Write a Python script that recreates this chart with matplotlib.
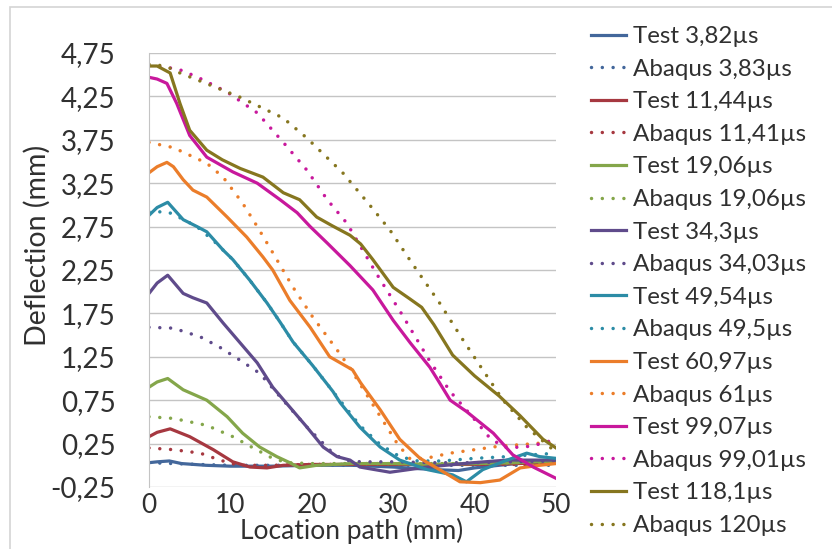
import matplotlib
matplotlib.use('Agg')
import matplotlib.pyplot as plt
from matplotlib.patches import Rectangle
import numpy as np

plt.rcParams['font.family'] = ['Lato', 'DejaVu Sans']

# --- data (location path in mm, deflection in mm) ---
test_3_x = [0, 1, 2.5, 4, 7, 10, 15, 20, 25, 30, 35, 38, 40, 43, 46, 50]
test_3_y = [0.03, 0.04, 0.05, 0.02, 0.0, -0.01, -0.01, 0.0, 0.0, -0.02, -0.05, -0.06, -0.03, 0.0, 0.03, 0.05]
abaqus_3_x = [0, 3, 6, 10, 20, 30, 40, 50]
abaqus_3_y = [0.03, 0.02, 0.01, 0.0, 0.0, 0.0, 0.0, 0.0]

test_11_x = [0, 1, 2.6, 5, 7.9, 10.3, 12.4, 14.5, 16.5, 20, 25, 30, 35, 40, 45, 50]
test_11_y = [0.33, 0.38, 0.42, 0.33, 0.18, 0.04, -0.02, -0.03, 0.0, 0.01, 0.01, 0.01, 0.01, 0.01, 0.02, 0.03]
abaqus_11_x = [0, 3, 6.3, 8.7, 11, 15, 20, 25, 30, 35, 40, 45, 50]
abaqus_11_y = [0.20, 0.18, 0.14, 0.06, 0.0, 0.0, 0.01, 0.01, 0.01, 0.01, 0.01, 0.01, 0.01]

test_19_x = [0, 1, 2.3, 4.2, 7.1, 9.6, 11.5, 13.6, 15.7, 17.3, 18.5, 20.6, 25, 30, 35, 40, 45, 50]
test_19_y = [0.90, 0.96, 1.0, 0.87, 0.75, 0.56, 0.37, 0.21, 0.10, 0.03, -0.03, 0.0, 0.02, 0.02, 0.01, 0.02, 0.03, 0.05]
abaqus_19_x = [0, 3, 7.1, 10.3, 12.8, 15.2, 17, 20, 25, 30, 35, 40, 45, 50]
abaqus_19_y = [0.56, 0.54, 0.46, 0.33, 0.20, 0.08, 0.03, 0.02, 0.02, 0.02, 0.02, 0.02, 0.03, 0.04]

test_34_x = [0, 1, 2.3, 4.2, 5.4, 7.1, 9.1, 11.2, 13.3, 15.2, 17.3, 19.4, 21.4, 23.1, 24.7, 25.9, 29.6, 34.2, 39.8, 44, 50]
test_34_y = [1.98, 2.10, 2.19, 1.98, 1.93, 1.87, 1.64, 1.41, 1.18, 0.90, 0.67, 0.44, 0.21, 0.10, 0.06, -0.02, -0.08, -0.02, 0.03, 0.06, 0.06]
abaqus_34_x = [0, 3, 6.3, 8.7, 11.2, 13.6, 16.1, 19.4, 22.6, 24, 26, 30, 35, 40, 45, 50]
abaqus_34_y = [1.59, 1.58, 1.48, 1.36, 1.21, 1.06, 0.79, 0.44, 0.14, 0.06, 0.04, 0.04, 0.03, 0.03, 0.04, 0.05]

test_49_x = [0, 1, 2.3, 4.2, 5.9, 7.1, 9.1, 10.3, 12.4, 14.5, 16.1, 17.7, 20.1, 22.6, 23.5, 25.9, 28.4, 30.8, 34.2, 37.3, 39, 41, 44, 46.4, 48, 50]
test_49_y = [2.88, 2.97, 3.03, 2.83, 2.75, 2.69, 2.48, 2.37, 2.13, 1.87, 1.65, 1.42, 1.15, 0.85, 0.72, 0.44, 0.21, 0.06, -0.05, -0.11, -0.19, -0.05, 0.06, 0.14, 0.10, 0.08]
abaqus_49_x = [0, 2.3, 4.5, 6, 8, 10.3, 12.4, 14.5, 16.1, 17.7, 20.1, 22.6, 25.9, 28.4, 30.8, 33, 36, 40, 44, 47, 50]
abaqus_49_y = [2.92, 2.92, 2.82, 2.74, 2.58, 2.37, 2.13, 1.87, 1.65, 1.42, 1.15, 0.85, 0.46, 0.24, 0.10, 0.05, 0.05, 0.08, 0.10, 0.12, 0.14]

test_61_x = [0, 1, 2.2, 3, 4.2, 5.4, 7.1, 9.6, 12, 14, 15.2, 17.3, 19.8, 22.2, 25, 26, 28.4, 30.8, 33.3, 35.7, 38.2, 40.7, 43.1, 45.6, 48, 50]
test_61_y = [3.37, 3.44, 3.49, 3.44, 3.29, 3.17, 3.09, 2.86, 2.63, 2.40, 2.25, 1.90, 1.59, 1.25, 1.10, 0.95, 0.64, 0.30, 0.08, -0.05, -0.19, -0.20, -0.17, -0.03, 0.0, 0.02]
abaqus_61_x = [0, 3, 7.1, 9.1, 11.5, 13.3, 15.2, 17.7, 20.1, 23.1, 24.7, 26.5, 28.5, 30.5, 32, 34, 37, 40, 43, 46, 50]
abaqus_61_y = [3.72, 3.66, 3.48, 3.32, 3.02, 2.75, 2.45, 2.05, 1.71, 1.33, 1.12, 0.85, 0.55, 0.25, 0.08, 0.08, 0.14, 0.18, 0.22, 0.24, 0.27]

test_99_x = [0, 1, 2.2, 3.4, 5, 7.1, 10.3, 13.3, 16.1, 18.2, 19.8, 21.9, 24.7, 27.5, 30, 32.1, 34.5, 35.5, 37, 39, 42.3, 44.7, 47.2, 50]
test_99_y = [4.47, 4.45, 4.40, 4.17, 3.80, 3.55, 3.38, 3.25, 3.06, 2.91, 2.75, 2.56, 2.30, 2.02, 1.67, 1.41, 1.13, 0.98, 0.75, 0.62, 0.37, 0.12, -0.02, -0.15]
abaqus_99_x = [0, 2, 4, 6, 9.6, 13.3, 16.5, 19.4, 21.9, 24.3, 28, 31, 34.5, 37, 39.8, 42, 44, 47, 50]
abaqus_99_y = [4.60, 4.59, 4.55, 4.47, 4.30, 4.06, 3.72, 3.40, 3.06, 2.79, 2.20, 1.75, 1.20, 0.85, 0.55, 0.30, 0.20, 0.22, 0.30]

test_118_x = [0, 1, 2.6, 3.8, 5, 7.1, 9, 11.2, 14, 16.5, 18.5, 20.6, 22.5, 24.7, 26, 27.5, 30, 32, 33.5, 35, 37.3, 40, 43, 45.6, 48.4, 50]
test_118_y = [4.60, 4.60, 4.52, 4.17, 3.86, 3.63, 3.52, 3.42, 3.32, 3.14, 3.06, 2.86, 2.76, 2.65, 2.55, 2.37, 2.05, 1.92, 1.82, 1.62, 1.27, 1.03, 0.80, 0.57, 0.30, 0.20]
abaqus_120_x = [0, 2, 3.8, 7, 11.2, 16.5, 19.4, 23.8, 27.1, 29.6, 32.3, 35.7, 38.6, 41, 43.5, 46.4, 50]
abaqus_120_y = [4.62, 4.60, 4.52, 4.40, 4.24, 4.0, 3.77, 3.37, 3.0, 2.71, 2.33, 1.87, 1.44, 1.10, 0.75, 0.44, 0.15]

labels = ['Test 3,82µs', 'Abaqus 3,83µs', 'Test 11,44µs', 'Abaqus 11,41µs',
          'Test 19,06µs', 'Abaqus 19,06µs', 'Test 34,3µs', 'Abaqus 34,03µs',
          'Test 49,54µs', 'Abaqus 49,5µs', 'Test 60,97µs', 'Abaqus 61µs',
          'Test 99,07µs', 'Abaqus 99,01µs', 'Test 118,1µs', 'Abaqus 120µs']
colors = ['#43679b', '#a63840', '#84a64a', '#5f4b8b', '#2c8ca6', '#eb7d2a', '#c8189c', '#86761f']

series = [(test_3_x, test_3_y), (abaqus_3_x, abaqus_3_y),
          (test_11_x, test_11_y), (abaqus_11_x, abaqus_11_y),
          (test_19_x, test_19_y), (abaqus_19_x, abaqus_19_y),
          (test_34_x, test_34_y), (abaqus_34_x, abaqus_34_y),
          (test_49_x, test_49_y), (abaqus_49_x, abaqus_49_y),
          (test_61_x, test_61_y), (abaqus_61_x, abaqus_61_y),
          (test_99_x, test_99_y), (abaqus_99_x, abaqus_99_y),
          (test_118_x, test_118_y), (abaqus_120_x, abaqus_120_y)]

W, H = 832, 549
txt = '#303030'
fig = plt.figure(figsize=(W / 100, H / 100), dpi=100)
ax = fig.add_axes([149 / W, 1 - 487 / H, (556 - 149) / W, (487 - 53) / H])

for i, ((xs, ys), lab) in enumerate(zip(series, labels)):
    col = colors[i // 2]
    if i % 2 == 0:
        ax.plot(xs, ys, color=col, lw=2.3, label=lab, solid_joinstyle='round')
    else:
        ax.plot(xs, ys, color=col, lw=2.5, linestyle=(0, (0.01, 3.1)),
                dash_capstyle='round', label=lab)

ax.set_xlim(0, 50)
ax.set_ylim(-0.25, 4.75)
yt = np.arange(-0.25, 4.76, 0.5)
ax.set_yticks(yt)
ax.set_yticklabels([f'{v:.2f}'.replace('.', ',') for v in yt])
ax.set_xticks([0, 10, 20, 30, 40, 50])
ax.grid(axis='y', color='#c4c4c4', lw=1)
ax.set_axisbelow(True)
for s in ['top', 'right', 'bottom']:
    ax.spines[s].set_visible(False)
ax.spines['left'].set_color('#c4c4c4')
ax.tick_params(length=0, labelsize=20, colors=txt)
ax.tick_params(axis='y', pad=24)
ax.tick_params(axis='x', labelsize=19, pad=4)

fig.text(352 / W, 1 - 539 / H, 'Location path (mm)', ha='center', va='baseline',
         fontsize=19, color=txt)
fig.text(37 / W, 1 - 245 / H, 'Deflection (mm)', ha='center', va='center',
         rotation=90, fontsize=20.5, color=txt)

leg = fig.legend(loc='upper left', bbox_to_anchor=(591 / W, 1 - 26 / H),
                 frameon=False, fontsize=17.4, handlelength=1.45,
                 handletextpad=0.29, labelspacing=0.48, borderpad=0,
                 borderaxespad=0)
for t in leg.get_texts():
    t.set_color(txt)

fig.patches.append(Rectangle((10 / W, -0.1), 2, 1 - 7 / H + 0.1,
                             transform=fig.transFigure, fill=False,
                             edgecolor='#d4d4d4', lw=1.2))

fig.savefig('out.png', dpi=100)
